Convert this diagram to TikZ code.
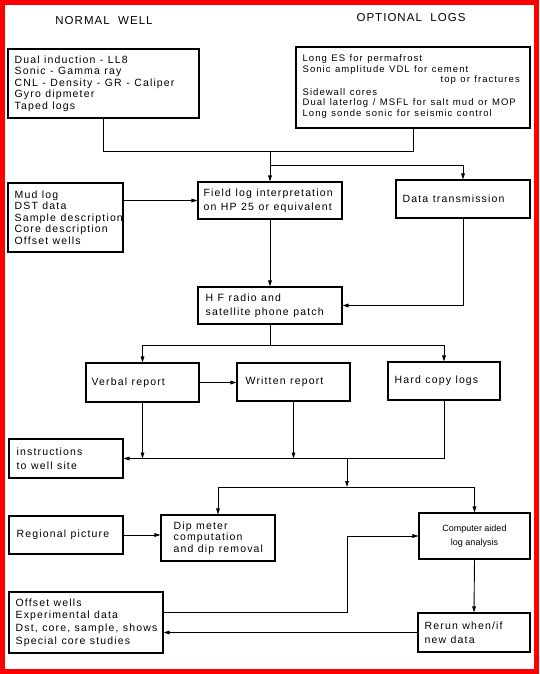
\documentclass[tikz,border=0pt]{standalone}
\usepackage{fontspec}
\usetikzlibrary{arrows.meta}
\newfontfamily\lett[LetterSpace=11]{Liberation Sans}
\newfontfamily\tlett[LetterSpace=9,WordSpace=2]{Liberation Sans}
\newfontfamily\plainf{Liberation Sans}
\newcommand\lfont[2]{\lett\fontsize{#1}{#2}\selectfont\spaceskip=4.5pt plus 1pt minus 1pt\relax}
\begin{document}
\begin{tikzpicture}[x=1pt,y=-1pt,
  box/.style={draw, line width=1.1pt, rectangle, inner sep=0pt},
  txt/.style={anchor=west, inner sep=0pt, align=left, font=\lfont{10.5}{11.5}},
  two/.style={font=\lfont{10.5}{14}},
  title/.style={inner sep=0pt, font=\tlett\fontsize{11.5}{13}\selectfont},
  arr/.style={-{Triangle[length=6pt,width=3.6pt]}, line width=0.9pt},
  ln/.style={line width=0.9pt}]
\useasboundingbox (0,0) rectangle (539,674);
\draw[red, line width=4.6pt] (2.3,2.3) rectangle (536.7,671.7);

\node[title] (t1) at (104,21) {NORMAL WELL};
\node[title] (t2) at (411,18) {OPTIONAL LOGS};

% boxes
\node[box, minimum width=191pt, minimum height=69pt] (nw) at (103.5,83.5) {};
\node[box, minimum width=234pt, minimum height=81pt] (ol) at (413,87.5) {};
\node[box, minimum width=115pt, minimum height=69pt] (ml) at (65.5,217.5) {};
\node[box, minimum width=144pt, minimum height=37pt] (fl) at (270,200.5) {};
\node[box, minimum width=134pt, minimum height=38pt] (dt) at (463,199) {};
\node[box, minimum width=144pt, minimum height=37pt] (hf) at (270,305.5) {};
\node[box, minimum width=113pt, minimum height=39pt] (vr) at (142.5,382.5) {};
\node[box, minimum width=113pt, minimum height=38pt] (wr) at (293.5,382) {};
\node[box, minimum width=112pt, minimum height=38pt] (hc) at (444,381) {};
\node[box, minimum width=114pt, minimum height=39pt] (in) at (66,458.5) {};
\node[box, minimum width=114pt, minimum height=38pt] (rp) at (66,535) {};
\node[box, minimum width=114pt, minimum height=46pt] (dm) at (218,538) {};
\node[box, minimum width=111pt, minimum height=46pt, align=center,
  font=\plainf\fontsize{9}{14}\selectfont] (ca) at (474.5,536) {Computer aided\\log analysis};
\node[box, minimum width=112pt, minimum height=39pt] (rr) at (474,632.5) {};
\node[box, minimum width=154pt, minimum height=61pt] (ow) at (86,622.5) {};

% texts
\node[txt] (nw-t) at ([xshift=7pt]nw.west)
  {Dual induction - LL8\\Sonic - Gamma ray\\CNL - Density - GR - Caliper\\Gyro dipmeter\\Taped logs};
\node[txt, font=\lfont{9.5}{10.6}] (ol-t) at ([xshift=7pt,yshift=1pt]ol.west)
  {Long ES for permafrost\\Sonic amplitude VDL for cement\\\hspace*{138pt}top or fractures\\[2pt]Sidewall cores\\Dual laterlog / MSFL for salt mud or MOP\\Long sonde sonic for seismic control};
\node[txt] (ml-t) at ([xshift=7pt]ml.west)
  {Mud log\\DST data\\Sample description\\Core description\\Offset wells};
\node[txt, two] (fl-t) at ([xshift=6pt]fl.west) {Field log interpretation\\on HP 25 or equivalent};
\node[txt] (dt-t) at ([xshift=7pt]dt.west) {Data transmission};
\node[txt, two] (hf-t) at ([xshift=8pt]hf.west) {H F radio and\\satellite phone patch};
\node[txt] (vr-t) at ([xshift=6pt]vr.west) {Verbal report};
\node[txt] (wr-t) at ([xshift=9pt]wr.west) {Written report};
\node[txt] (hc-t) at ([xshift=7pt]hc.west) {Hard copy logs};
\node[txt, two] (in-t) at ([xshift=8pt]in.west) {instructions\\to well site};
\node[txt] (rp-t) at ([xshift=8pt]rp.west) {Regional picture};
\node[txt] (dm-t) at ([xshift=13pt]dm.west) {Dip meter\\computation\\and dip removal};
\node[txt, two] (rr-t) at ([xshift=7pt]rr.west) {Rerun when/if\\new data};
\node[txt, font=\lfont{10.5}{12.6}] (ow-t) at ([xshift=7pt]ow.west)
  {Offset wells\\Experimental data\\Dst, core, sample, shows\\Special core studies};

% connectors
\coordinate (j1) at (270,151);
\coordinate (j2) at (270,165);
\draw[ln] (nw.south) -- (nw.south |- j1) -- (ol.south |- j1) -- (ol.south);
\draw[arr] (j1) -- (fl.north);
\draw[arr] (j2) -| (dt.north);
\draw[arr] (fl.west -| ml.east) -- (fl.west);
\draw[arr] (fl.south) -- (hf.north);
\draw[arr] (dt.south) |- (hf.east);
\coordinate (j3) at (270,345);
\draw[ln] (hf.south) -- (j3);
\draw[arr] (j3) -| (vr.north);
\draw[arr] (j3) -| (hc.north);
\draw[arr] (vr.east) -- (vr.east -| wr.west);
\draw[arr] (hc.south) |- (in.east);
\draw[arr] (vr.south) -- (vr.south |- in.east);
\draw[arr] (wr.south) -- (wr.south |- in.east);
\coordinate (j4) at (347,458.5);
\coordinate (j5) at (347,487);
\draw[arr] (j4) -- (j5);
\draw[arr] (j5) -| (dm.north);
\draw[arr] (j5) -| (ca.north);
\draw[arr] (rp.east) -- (rp.east -| dm.west);
\coordinate (k) at (347,612);
\draw[arr] (ow.east |- k) -- (k) |- (ca.west);
\draw[arr] (ca.south) -- (rr.north);
\draw[arr] (rr.west) -- (rr.west -| ow.east);
\end{tikzpicture}
\end{document}
